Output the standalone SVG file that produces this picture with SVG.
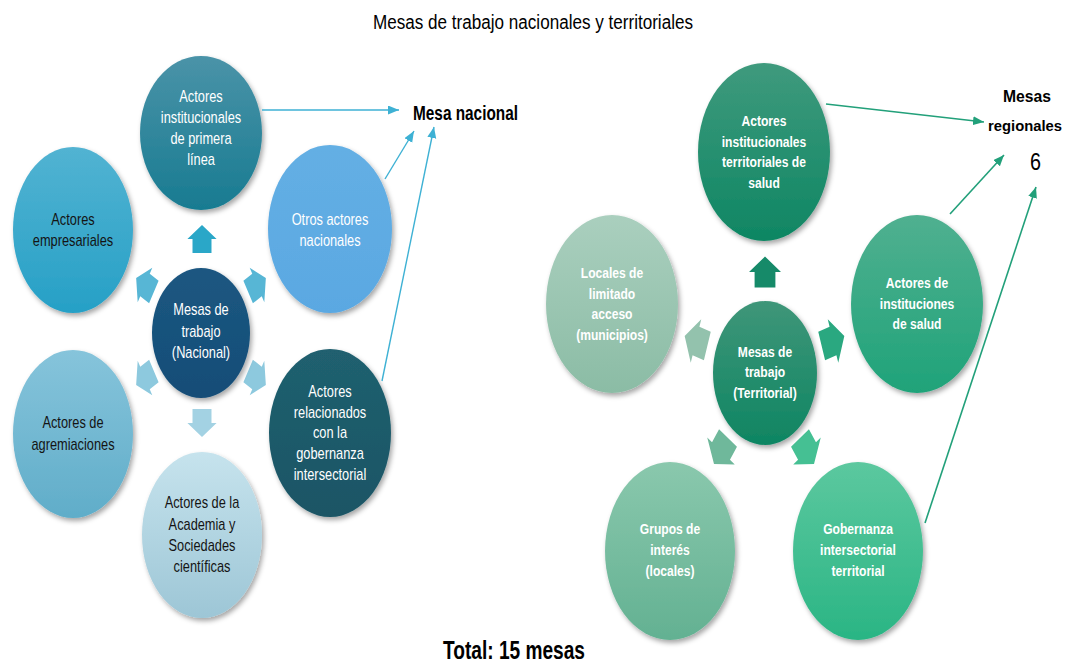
<svg xmlns="http://www.w3.org/2000/svg" width="1068" height="664" viewBox="0 0 1068 664">
<style>
  .lt { font-family: "Liberation Sans", Arial, sans-serif; font-size: 16px; text-anchor: middle; }
  .rt { font-family: "Liberation Sans", Arial, sans-serif; font-size: 15.5px; font-weight: bold; text-anchor: middle; fill: #ffffff; }
  .w { fill: #ffffff; }
  .k { fill: #141414; }
  .hd { font-family: "Liberation Sans", Arial, sans-serif; fill: #000; }
  .cl { fill: none; stroke: #3eb1d4; stroke-width: 1.4; }
  .cr { fill: none; stroke: #22a07a; stroke-width: 1.6; }
  ellipse { filter: url(#sh); }
</style>
<defs>
  <filter id="sh" x="-20%" y="-20%" width="140%" height="140%">
    <feDropShadow dx="2" dy="3" stdDeviation="2.5" flood-color="#000" flood-opacity="0.35"/>
  </filter>
  <marker id="ab" markerUnits="userSpaceOnUse" markerWidth="12" markerHeight="10" refX="11" refY="4.5" orient="auto">
    <path d="M0,0 L11,4.5 L0,9 z" fill="#3eb1d4"/>
  </marker>
  <marker id="ag" markerUnits="userSpaceOnUse" markerWidth="12" markerHeight="10" refX="11" refY="4.5" orient="auto">
    <path d="M0,0 L11,4.5 L0,9 z" fill="#22a07a"/>
  </marker>
  <path id="ba" d="M0,-14 L20,0 L13,0 L13,14 L-13,14 L-13,0 L-20,0 Z"/>
  <linearGradient id="gL1" x1="0" y1="0" x2="0" y2="1"><stop offset="0" stop-color="#4a93a8"/><stop offset="1" stop-color="#187b91"/></linearGradient>
  <linearGradient id="gL2" x1="0" y1="0" x2="0" y2="1"><stop offset="0" stop-color="#52b3d2"/><stop offset="1" stop-color="#26a0c6"/></linearGradient>
  <linearGradient id="gL3" x1="0" y1="0" x2="0" y2="1"><stop offset="0" stop-color="#64afe4"/><stop offset="1" stop-color="#5aa8e2"/></linearGradient>
  <linearGradient id="gL4" x1="0" y1="0" x2="0" y2="1"><stop offset="0" stop-color="#1c5781"/><stop offset="1" stop-color="#144d77"/></linearGradient>
  <linearGradient id="gL5" x1="0" y1="0" x2="0" y2="1"><stop offset="0" stop-color="#86c4db"/><stop offset="1" stop-color="#60adc9"/></linearGradient>
  <linearGradient id="gL6" x1="0" y1="0" x2="0" y2="1"><stop offset="0" stop-color="#20606f"/><stop offset="1" stop-color="#1a5565"/></linearGradient>
  <linearGradient id="gL7" x1="0" y1="0" x2="0" y2="1"><stop offset="0" stop-color="#c6e3ed"/><stop offset="1" stop-color="#9dc6d6"/></linearGradient>
  <linearGradient id="gR1" x1="0" y1="0" x2="0" y2="1"><stop offset="0" stop-color="#3f9a7d"/><stop offset="1" stop-color="#0e8663"/></linearGradient>
  <linearGradient id="gR2" x1="0" y1="0" x2="0" y2="1"><stop offset="0" stop-color="#aacfbe"/><stop offset="1" stop-color="#8bbca5"/></linearGradient>
  <linearGradient id="gR3" x1="0" y1="0" x2="0" y2="1"><stop offset="0" stop-color="#50b090"/><stop offset="1" stop-color="#1fa379"/></linearGradient>
  <linearGradient id="gR4" x1="0" y1="0" x2="0" y2="1"><stop offset="0" stop-color="#3f9679"/><stop offset="1" stop-color="#0e8562"/></linearGradient>
  <linearGradient id="gR5" x1="0" y1="0" x2="0" y2="1"><stop offset="0" stop-color="#8ac8ad"/><stop offset="1" stop-color="#63b192"/></linearGradient>
  <linearGradient id="gR6" x1="0" y1="0" x2="0" y2="1"><stop offset="0" stop-color="#5cc89f"/><stop offset="1" stop-color="#2ab584"/></linearGradient>
</defs>
<rect width="1068" height="664" fill="#ffffff"/>

<text class="hd" x="373" y="29" font-size="20" textLength="320" lengthAdjust="spacingAndGlyphs">Mesas de trabajo nacionales y territoriales</text>

<!-- small block arrows, left cluster -->
<g id="arrows-left">
  <use href="#ba" fill="#2aa7c8" transform="translate(202,239) scale(0.73,1)"/>
  <use href="#ba" fill="#57b6d5" transform="translate(145,285) scale(0.73,1) rotate(-60)"/>
  <use href="#ba" fill="#57b6d5" transform="translate(257,285) scale(0.73,1) rotate(60)"/>
  <use href="#ba" fill="#8dc9de" transform="translate(145,378) scale(0.73,1) rotate(-120)"/>
  <use href="#ba" fill="#8dc9de" transform="translate(257,378) scale(0.73,1) rotate(120)"/>
  <use href="#ba" fill="#a3d2e3" transform="translate(202,423) scale(0.73,1) rotate(180)"/>
</g>

<!-- small block arrows, right cluster -->
<g id="arrows-right">
  <use href="#ba" fill="#168a69" transform="translate(765,272) scale(0.8,1.1)"/>
  <use href="#ba" fill="#93c2ad" transform="translate(696,341) scale(0.74,1) rotate(-72) scale(1.15)"/>
  <use href="#ba" fill="#2aa880" transform="translate(833,341) scale(0.74,1) rotate(72) scale(1.15)"/>
  <use href="#ba" fill="#6fb89b" transform="translate(721,451) scale(0.74,1) rotate(-144) scale(1.15)"/>
  <use href="#ba" fill="#45c093" transform="translate(807,451) scale(0.74,1) rotate(144) scale(1.15)"/>
</g>

<!-- left nodes -->
<g id="n-primera-linea">
  <ellipse cx="201" cy="133" rx="61" ry="77" fill="url(#gL1)"/>
  <g transform="translate(201,0) scale(0.8,1)"><text class="lt w"><tspan x="0" y="102">Actores</tspan><tspan x="0" y="123">institucionales</tspan><tspan x="0" y="144">de primera</tspan><tspan x="0" y="165">línea</tspan></text></g>
</g>
<g id="n-empresariales">
  <ellipse cx="73" cy="230" rx="60" ry="83" fill="url(#gL2)"/>
  <g transform="translate(73,0) scale(0.8,1)"><text class="lt k"><tspan x="0" y="225">Actores</tspan><tspan x="0" y="246">empresariales</tspan></text></g>
</g>
<g id="n-otros">
  <ellipse cx="330" cy="229" rx="62" ry="84" fill="url(#gL3)"/>
  <g transform="translate(330,0) scale(0.8,1)"><text class="lt w"><tspan x="0" y="225">Otros actores</tspan><tspan x="0" y="246">nacionales</tspan></text></g>
</g>
<g id="n-nacional">
  <ellipse cx="201" cy="333" rx="49" ry="65" fill="url(#gL4)"/>
  <g transform="translate(201,0) scale(0.8,1)"><text class="lt w"><tspan x="0" y="315">Mesas de</tspan><tspan x="0" y="337">trabajo</tspan><tspan x="0" y="358">(Nacional)</tspan></text></g>
</g>
<g id="n-agremiaciones">
  <ellipse cx="73" cy="434" rx="60" ry="84" fill="url(#gL5)"/>
  <g transform="translate(73,0) scale(0.8,1)"><text class="lt k"><tspan x="0" y="428">Actores de</tspan><tspan x="0" y="450">agremiaciones</tspan></text></g>
</g>
<g id="n-gobernanza">
  <ellipse cx="330" cy="433" rx="61" ry="84" fill="url(#gL6)"/>
  <g transform="translate(330,0) scale(0.8,1)"><text class="lt w"><tspan x="0" y="397">Actores</tspan><tspan x="0" y="418">relacionados</tspan><tspan x="0" y="438">con la</tspan><tspan x="0" y="459">gobernanza</tspan><tspan x="0" y="480">intersectorial</tspan></text></g>
</g>
<g id="n-academia">
  <ellipse cx="202" cy="535" rx="60" ry="83" fill="url(#gL7)"/>
  <g transform="translate(202,0) scale(0.8,1)"><text class="lt k"><tspan x="0" y="508">Actores de la</tspan><tspan x="0" y="530">Academia y</tspan><tspan x="0" y="551">Sociedades</tspan><tspan x="0" y="572">científicas</tspan></text></g>
</g>

<!-- right nodes -->
<g id="n-territoriales-salud">
  <ellipse cx="764" cy="152" rx="66" ry="89" fill="url(#gR1)"/>
  <g transform="translate(764,0) scale(0.78,1)"><text class="rt"><tspan x="0" y="126">Actores</tspan><tspan x="0" y="147">institucionales</tspan><tspan x="0" y="167">territoriales de</tspan><tspan x="0" y="188">salud</tspan></text></g>
</g>
<g id="n-locales">
  <ellipse cx="612" cy="304" rx="66" ry="89" fill="url(#gR2)"/>
  <g transform="translate(612,0) scale(0.78,1)"><text class="rt"><tspan x="0" y="278">Locales de</tspan><tspan x="0" y="299">limitado</tspan><tspan x="0" y="319">acceso</tspan><tspan x="0" y="340">(municipios)</tspan></text></g>
</g>
<g id="n-instituciones">
  <ellipse cx="917" cy="304" rx="66" ry="89" fill="url(#gR3)"/>
  <g transform="translate(917,0) scale(0.78,1)"><text class="rt"><tspan x="0" y="288">Actores de</tspan><tspan x="0" y="309">instituciones</tspan><tspan x="0" y="329">de salud</tspan></text></g>
</g>
<g id="n-territorial">
  <ellipse cx="765" cy="373" rx="52" ry="72" fill="url(#gR4)"/>
  <g transform="translate(765,0) scale(0.78,1)"><text class="rt"><tspan x="0" y="357">Mesas de</tspan><tspan x="0" y="377">trabajo</tspan><tspan x="0" y="398">(Territorial)</tspan></text></g>
</g>
<g id="n-grupos">
  <ellipse cx="670" cy="551" rx="65" ry="89" fill="url(#gR5)"/>
  <g transform="translate(670,0) scale(0.78,1)"><text class="rt"><tspan x="0" y="534">Grupos de</tspan><tspan x="0" y="555">interés</tspan><tspan x="0" y="576">(locales)</tspan></text></g>
</g>
<g id="n-gob-territorial">
  <ellipse cx="858" cy="551" rx="65" ry="89" fill="url(#gR6)"/>
  <g transform="translate(858,0) scale(0.78,1)"><text class="rt"><tspan x="0" y="534">Gobernanza</tspan><tspan x="0" y="555">intersectorial</tspan><tspan x="0" y="576">territorial</tspan></text></g>
</g>

<!-- connectors -->
<g id="connectors">
  <line class="cl" x1="262" y1="110" x2="399" y2="110" marker-end="url(#ab)"/>
  <line class="cl" x1="385" y1="179" x2="414" y2="131" marker-end="url(#ab)"/>
  <line class="cl" x1="382" y1="381" x2="434" y2="127" marker-end="url(#ab)"/>
  <line class="cr" x1="826" y1="104" x2="984" y2="122" marker-end="url(#ag)"/>
  <line class="cr" x1="950" y1="214" x2="1004" y2="155" marker-end="url(#ag)"/>
  <line class="cr" x1="925" y1="523" x2="1036" y2="187" marker-end="url(#ag)"/>
</g>

<!-- labels -->
<g id="mesa-nacional">
  <text class="hd" x="413" y="120" font-size="20" font-weight="bold" textLength="105" lengthAdjust="spacingAndGlyphs">Mesa nacional</text>
</g>
<g id="mesas-regionales">
  <text class="hd" x="1003" y="102" font-size="17" font-weight="bold" textLength="48" lengthAdjust="spacingAndGlyphs">Mesas</text>
  <text class="hd" x="988" y="131" font-size="15.5" font-weight="bold" textLength="74" lengthAdjust="spacingAndGlyphs">regionales</text>
  <text class="hd" x="1030" y="170" font-size="23" textLength="11" lengthAdjust="spacingAndGlyphs">6</text>
</g>
<g id="total">
  <text class="hd" x="443" y="659" font-size="26" font-weight="bold" textLength="142" lengthAdjust="spacingAndGlyphs">Total: 15 mesas</text>
</g>
</svg>
